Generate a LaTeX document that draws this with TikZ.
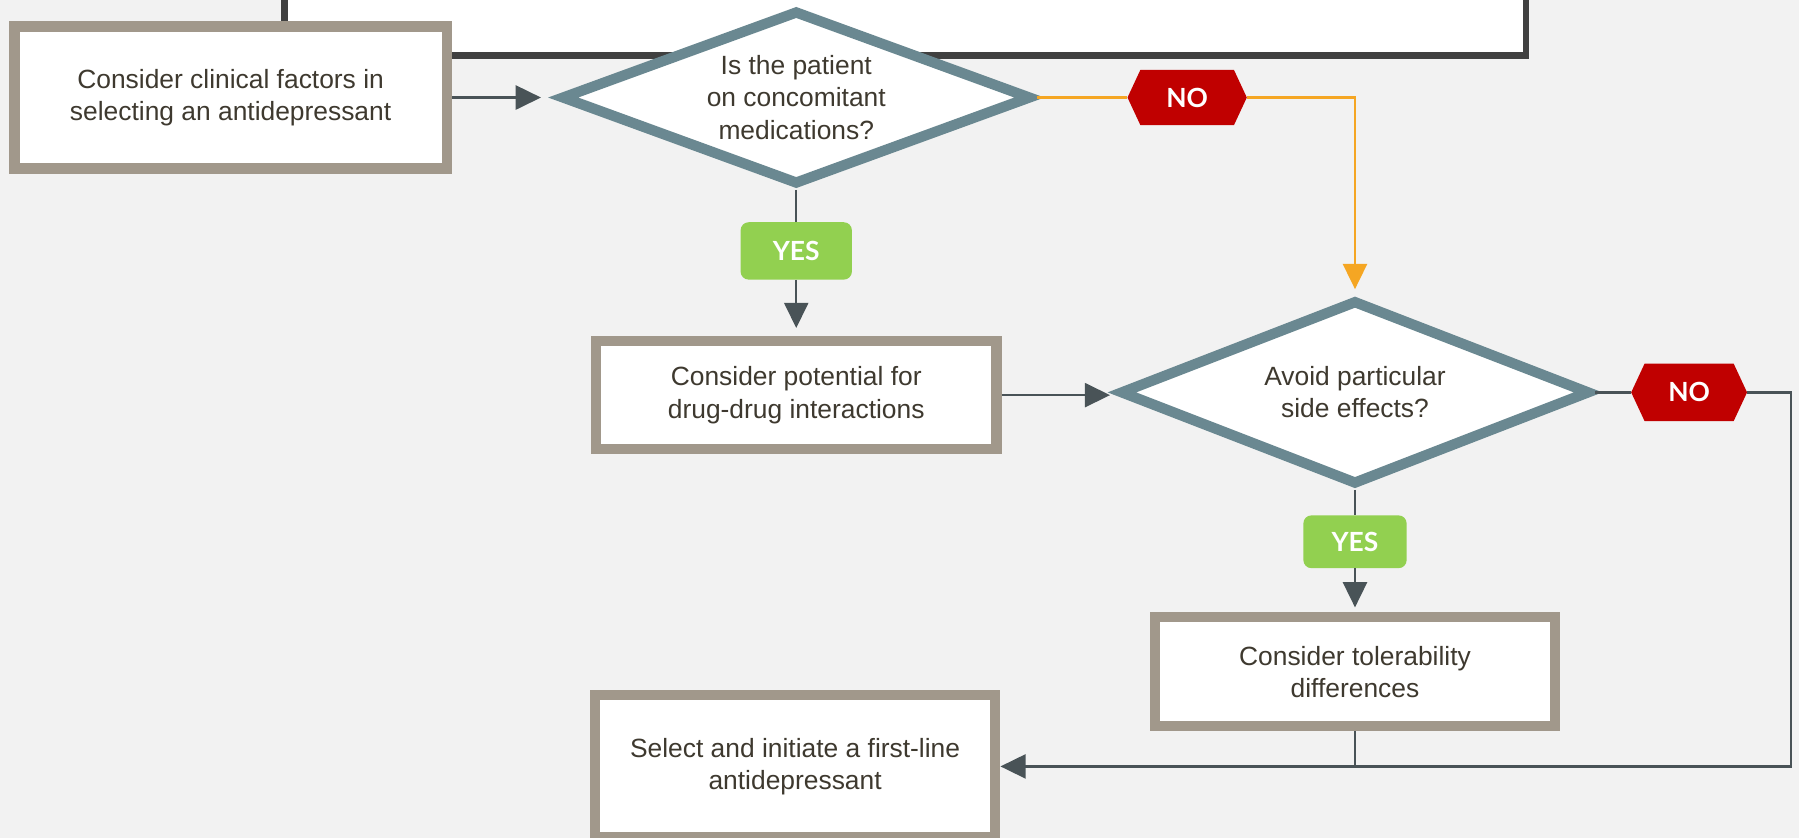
\documentclass[tikz,border=0pt]{standalone}
\usepackage{fontspec}
\setmainfont{Liberation Sans}
\newfontfamily\tagfont{Lato}
\definecolor{boxgray}{RGB}{161,152,139}
\definecolor{qblue}{RGB}{106,136,145}
\definecolor{linegray}{RGB}{73,83,87}
\definecolor{noorange}{RGB}{245,166,35}
\definecolor{nored}{RGB}{192,0,0}
\definecolor{yesgreen}{RGB}{146,208,80}
\definecolor{txtdark}{RGB}{62,57,47}
\definecolor{framedark}{RGB}{64,64,64}
\definecolor{bggray}{RGB}{242,242,242}
\usetikzlibrary{arrows.meta, positioning, shapes.geometric, shapes.symbols}

\begin{document}
\begin{tikzpicture}[
      x=1pt, y=-1pt,
      act/.style={draw=boxgray, line width=9pt, fill=white, minimum width=349pt, minimum height=94pt, align=center, text=txtdark, font=\fontsize{23}{28}\selectfont},
      ask/.style={diamond, draw=qblue, line width=9pt, fill=white, aspect=2.7, inner sep=0pt, minimum width=410pt, minimum height=152pt, align=center, text=txtdark, font=\fontsize{23}{28}\selectfont},
      yestag/.style={fill=yesgreen, rounded corners=7pt, minimum width=97pt, minimum height=50pt, inner sep=0pt, text=white, font=\fontsize{23}{23}\tagfont\bfseries},
      notag/.style={signal, signal to=east and west, signal pointer angle=130, fill=nored, minimum width=104pt, minimum height=48pt, inner sep=0pt, text=white, font=\fontsize{23}{23}\tagfont\bfseries},
      lnk/.style={line width=2pt, linegray},
      arr/.style={lnk, -{Triangle[length=22pt, width=21pt]}},
      orng/.style={line width=2pt, noorange},
    ]
      \fill[bggray] (0,0) rectangle (1568,730);
      \useasboundingbox (0,0) rectangle (1568,730);

      % earlier step, cut off at the top
      \node[draw=framedark, line width=6pt, fill=white, minimum width=1082pt, minimum height=120pt, inner sep=0pt] (prev) at (789,-12) {};

      \node[act, minimum width=377pt, minimum height=124pt] (factors) at (201,85) {Consider clinical factors in\\selecting an antidepressant};
      \node[ask] (conmed) at (694,85) {Is the patient\\on concomitant\\medications?};
      \node[ask, minimum height=161pt] (sidefx) at (1181,342) {Avoid particular\\side effects?};
      \node[act, minimum height=124pt] (first) at (693,668) {Select and initiate a first-line\\antidepressant};

      \node[yestag, below=28pt of conmed] (yes1) {YES};
      \node[act, below=49pt of yes1] (interact) {Consider potential for\\drug-drug interactions};
      \node[notag, right=79pt of conmed] (no1) {NO};

      \node[yestag, below=22pt of sidefx, minimum width=90pt, minimum height=46pt] (yes2) {YES};
      \node[act, minimum height=95pt, below=38pt of yes2] (toler) {Consider tolerability\\differences};
      \node[notag, right=31pt of sidefx, minimum width=101pt, minimum height=50pt] (no2) {NO};

      \draw[arr, shorten >=13pt] (factors.east) -- (conmed.west);
      \draw[lnk] (conmed.south) -- (yes1.north); \draw[arr, shorten >=7pt] (yes1.south) -- (interact.north);
      \draw[arr, shorten >=4pt] (interact.east) -- (interact.east -| sidefx.west);
      \draw[orng] (conmed.east) -- (no1.west);
      \draw[orng, -{Triangle[length=22pt, width=21pt]}, shorten >=5pt] (no1.east) -| (sidefx.north);

      \draw[lnk] (sidefx.south) -- (yes2.north); \draw[arr, shorten >=4pt] (yes2.south) -- (toler.north);
      \draw[lnk] (sidefx.east) -- (no2.west);
      \draw[arr] (no2.east) -- ++(38,0) |- (first.east);
      \draw[lnk] (toler.south) -- (toler.south |- first.east);
    \end{tikzpicture}
\end{document}
